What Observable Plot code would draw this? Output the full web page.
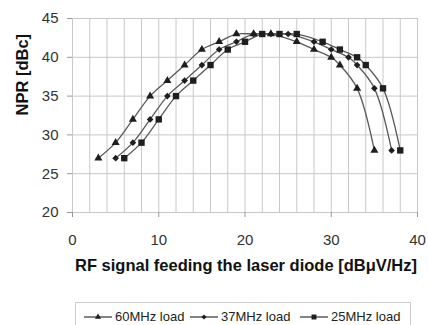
<!DOCTYPE html>
<html>
<head>
<meta charset="utf-8">
<script src="https://cdn.jsdelivr.net/npm/d3@7"></script>
<script src="https://cdn.jsdelivr.net/npm/@observablehq/plot@0.6"></script>
<style>
  html, body { margin: 0; padding: 0; background: #fff; }
  body { width: 428px; height: 325px; overflow: hidden; position: relative; font-family: "Liberation Sans", Arial, sans-serif; }
  #legend { position: absolute; left: 75px; top: 302px; width: 336px; height: 30px; border: 1px solid #ccc; box-sizing: border-box; }
  .item { position: absolute; top: 6px; display: flex; align-items: center; font-size: 13px; color: #222; white-space: nowrap; }
  .item svg { margin-right: 3px; }
</style>
</head>
<body>
<div id="chart"></div>
<div id="legend"></div>
<script>
const seriesNames = ["60MHz load", "37MHz load", "25MHz load"];
const symbols = ["triangle", "diamond2", "square"];
const symbolR = [3, 3, 3.6];

const x60 = [3, 5, 7, 9, 11, 13, 15, 17, 19, 21, 23, 26, 28, 30, 31, 33, 35];
const y60 = [27, 29, 32, 35, 37, 39, 41, 42, 43, 43, 43, 42, 41, 40, 39, 36, 28];
const x37 = [5, 7, 9, 11, 13, 15, 17, 19, 21, 23, 25, 28, 30, 32, 33, 35, 37];
const y37 = [27, 29, 32, 35, 37, 39, 41, 42, 43, 43, 43, 42, 41, 40, 39, 36, 28];
const x25 = [6, 8, 10, 12, 14, 16, 18, 20, 22, 24, 26, 29, 31, 33, 34, 36, 38];
const y25 = [27, 29, 32, 35, 37, 39, 41, 42, 43, 43, 43, 42, 41, 40, 39, 36, 28];

const xTicks = [0, 10, 20, 30, 40];
const yTicks = [20, 25, 30, 35, 40, 45];
const xGrid = d3.range(0, 41, 2);
const xTitle = "RF signal feeding the laser diode [dBμV/Hz]";
const yTitle = "NPR [dBc]";

const xs = [x60, x37, x25];
const ys = [y60, y37, y25];
const data = [];
seriesNames.forEach((s, i) => xs[i].forEach((x, j) => data.push({series: s, x, y: ys[i][j]})));

const chart = Plot.plot({
  width: 428,
  height: 295,
  marginLeft: 72,
  marginRight: 11,
  marginTop: 18,
  marginBottom: 83,
  style: {fontFamily: "'Liberation Sans', Arial, sans-serif", color: "#333", background: "#fff"},
  x: {domain: [0, 40]},
  y: {domain: [20, 45]},
  marks: [
    Plot.gridX(xGrid, {stroke: "#c8c8c8", strokeOpacity: 1}),
    Plot.gridY(yTicks, {stroke: "#c8c8c8", strokeOpacity: 1}),
    Plot.axisX(xTicks, {tickSize: 5, tickPadding: 17, fontSize: 15, stroke: "#999", fill: "#333", label: null}),
    Plot.axisY(yTicks, {tickSize: 5, tickPadding: 9, fontSize: 15, stroke: "#999", fill: "#333", label: null}),
    Plot.line(data, {x: "x", y: "y", z: "series", stroke: "#5a5a5a", strokeWidth: 1.3, curve: "catmull-rom"}),
    ...symbols.map((sym, i) => Plot.dot(data.filter(d => d.series === seriesNames[i]), {x: "x", y: "y", symbol: sym, r: symbolR[i], fill: "#1e1e1e", stroke: "none"})),
    Plot.text([xTitle], {frameAnchor: "bottom", dy: 58, dx: 1, text: d => d, fontWeight: "bold", fontSize: 16.5, fill: "#111"}),
    Plot.text([yTitle], {frameAnchor: "left", dx: -50, rotate: -90, text: d => d, fontWeight: "bold", fontSize: 16.5, fill: "#111"})
  ]
});
document.getElementById("chart").appendChild(chart);

// legend
const legend = document.getElementById("legend");
const itemLeft = [8, 114, 224];
const symGen = {triangle: d3.symbolTriangle, diamond2: d3.symbolDiamond2, square: d3.symbolSquare};
seriesNames.forEach((s, i) => {
  const item = document.createElement("div");
  item.className = "item";
  item.style.left = itemLeft[i] + "px";
  const path = d3.symbol(symGen[symbols[i]], Math.PI * symbolR[i] * symbolR[i] * 0.6)();
  item.innerHTML = `<svg width="28" height="12"><line x1="0" x2="28" y1="6" y2="6" stroke="#333" stroke-width="1.2"/><path d="${path}" transform="translate(14,6)" fill="#1e1e1e"/></svg><span>${s}</span>`;
  legend.appendChild(item);
});
</script>
</body>
</html>
